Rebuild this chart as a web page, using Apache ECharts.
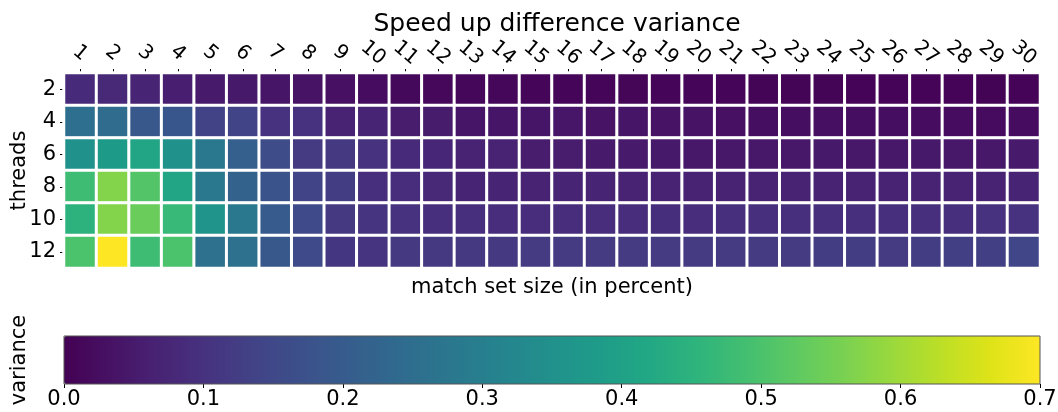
<!DOCTYPE html>
<html>
<head>
<meta charset="utf-8">
<script src="https://cdn.jsdelivr.net/npm/echarts@6/dist/echarts.min.js"></script>
<style>
  html, body { margin: 0; padding: 0; background: #fff; }
  #chart { width: 1058px; height: 412px; }
</style>
</head>
<body>
<div id="chart"></div>
<script>
// match set size (percent) along the columns
const matchSizes = ['1','2','3','4','5','6','7','8','9','10','11','12','13','14','15',
                    '16','17','18','19','20','21','22','23','24','25','26','27','28','29','30'];
// thread counts along the rows
const threads = ['2','4','6','8','10','12'];

// speed up difference variance, one array per thread count
const var2  = [0.085,0.080,0.070,0.060,0.050,0.048,0.040,0.035,0.030,0.022,
               0.015,0.013,0.012,0.012,0.010,0.010,0.010,0.009,0.008,0.008,
               0.008,0.007,0.007,0.007,0.006,0.006,0.006,0.006,0.005,0.006];
const var4  = [0.250,0.245,0.190,0.185,0.135,0.140,0.100,0.100,0.065,0.070,
               0.055,0.053,0.040,0.040,0.040,0.042,0.035,0.040,0.035,0.035,
               0.030,0.025,0.025,0.028,0.025,0.025,0.022,0.022,0.020,0.022];
const var6  = [0.350,0.380,0.410,0.350,0.280,0.210,0.160,0.120,0.115,0.100,
               0.085,0.075,0.065,0.065,0.055,0.055,0.050,0.050,0.048,0.045,
               0.045,0.045,0.045,0.048,0.045,0.045,0.048,0.045,0.045,0.050];
const var8  = [0.480,0.570,0.510,0.410,0.280,0.220,0.180,0.140,0.125,0.095,
               0.090,0.080,0.070,0.070,0.068,0.070,0.070,0.065,0.065,0.065,
               0.065,0.065,0.065,0.065,0.065,0.065,0.065,0.065,0.065,0.070];
const var10 = [0.450,0.570,0.540,0.470,0.360,0.280,0.200,0.155,0.115,0.105,
               0.100,0.095,0.095,0.090,0.090,0.090,0.090,0.090,0.092,0.090,
               0.095,0.095,0.095,0.095,0.095,0.095,0.095,0.095,0.100,0.100];
const var12 = [0.500,0.700,0.480,0.500,0.260,0.260,0.190,0.155,0.110,0.105,
               0.115,0.115,0.115,0.115,0.120,0.120,0.120,0.120,0.120,0.120,
               0.120,0.120,0.120,0.125,0.125,0.120,0.125,0.130,0.130,0.145];

// colour bar tick labels
const colorTicks = ['0.0','0.1','0.2','0.3','0.4','0.5','0.6','0.7'];

const rows = [var2, var4, var6, var8, var10, var12];
const cells = [];
rows.forEach((row, yi) => row.forEach((v, xi) => cells.push([xi, yi, v])));

const viridis = ['#440154','#471365','#482475','#463480','#414487','#3b528b','#355f8d',
                 '#2f6c8e','#2a788e','#25848e','#21918c','#1e9c89','#22a884','#2fb47c',
                 '#44bf70','#5ec962','#7ad151','#9bd93c','#bddf26','#dfe318','#fde725'];

const FONT = 'DejaVu Sans';
const chart = echarts.init(document.getElementById('chart'));

chart.setOption({
  animation: false,
  backgroundColor: '#fff',
  textStyle: { fontFamily: FONT, color: '#000' },
  title: {
    text: 'Speed up difference variance',
    left: 552, textAlign: 'center', top: 7,
    textStyle: { fontFamily: FONT, fontSize: 25, fontWeight: 'normal', color: '#000' }
  },
  grid: [
    { left: 64, right: 18, top: 73, height: 195, outerBoundsMode: 'none', containLabel: false },
    { left: 64, right: 18, top: 336, height: 48, outerBoundsMode: 'none', containLabel: false,
      show: true, z: 10, backgroundColor: 'transparent', borderColor: '#555', borderWidth: 1 }
  ],
  xAxis: [
    {
      type: 'category', gridIndex: 0, position: 'top', data: matchSizes,
      axisLine: { show: false },
      axisTick: { show: true, alignWithLabel: true, length: 4, lineStyle: { color: '#000' } },
      axisLabel: { interval: 0, rotate: 40, align: 'center', verticalAlign: 'middle',
                   fontSize: 20, color: '#000', fontFamily: FONT, margin: 20 },
      splitLine: { show: false }
    },
    {
      type: 'category', gridIndex: 0, position: 'bottom', data: matchSizes,
      name: 'match set size (in percent)', nameLocation: 'middle', nameGap: 9,
      nameTextStyle: { fontSize: 21, color: '#000', fontFamily: FONT },
      axisLine: { show: false }, axisTick: { show: false }, axisLabel: { show: false },
      splitLine: { show: false }
    },
    {
      type: 'value', gridIndex: 1, min: 0, max: 0.7, interval: 0.1, position: 'bottom',
      axisLine: { show: false },
      axisTick: { show: true, length: 4, lineStyle: { color: '#000' } },
      axisLabel: { fontSize: 21, color: '#000', fontFamily: FONT, margin: 5,
                   formatter: (v) => colorTicks[Math.round(v * 10)] },
      splitLine: { show: false }
    }
  ],
  yAxis: [
    {
      type: 'category', gridIndex: 0, data: threads, inverse: true,
      name: 'threads', nameLocation: 'middle', nameGap: 34, nameRotate: 90,
      nameMoveOverlap: false,
      nameTextStyle: { fontSize: 21, color: '#000', fontFamily: FONT },
      axisLine: { show: false },
      axisTick: { show: true, alignWithLabel: true, length: 4, lineStyle: { color: '#000' } },
      axisLabel: { fontSize: 21, color: '#000', fontFamily: FONT, margin: 8 },
      splitLine: { show: false }
    },
    {
      type: 'value', gridIndex: 1, min: 0, max: 1,
      name: 'variance', nameLocation: 'middle', nameGap: 34, nameRotate: 90,
      nameMoveOverlap: false,
      nameTextStyle: { fontSize: 21, color: '#000', fontFamily: FONT },
      axisLine: { show: false }, axisTick: { show: false }, axisLabel: { show: false },
      splitLine: { show: false }
    }
  ],
  visualMap: {
    type: 'continuous', min: 0, max: 0.7, seriesIndex: 0,
    orient: 'horizontal', left: 64, top: 336, padding: 0,
    itemWidth: 48, itemHeight: 976, calculable: false, hoverLink: false,
    text: null, showLabel: false,
    inRange: { color: viridis }
  },
  series: [
    {
      type: 'heatmap', xAxisIndex: 0, yAxisIndex: 0, data: cells,
      itemStyle: { borderColor: '#fff', borderWidth: 3 },
      emphasis: { disabled: true }
    }
  ]
});
</script>
</body>
</html>
